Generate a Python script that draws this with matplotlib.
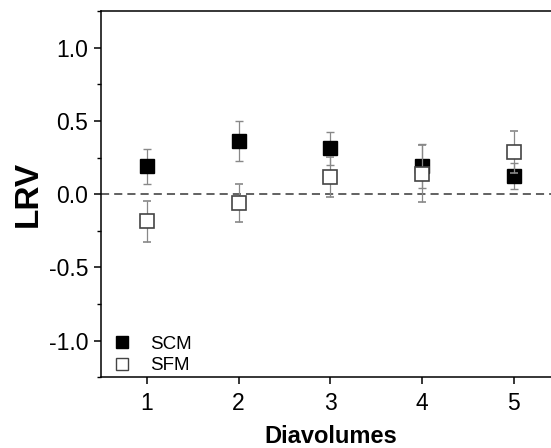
import matplotlib
matplotlib.use('Agg')
import matplotlib.pyplot as plt
from matplotlib.lines import Line2D
from matplotlib.ticker import MultipleLocator, FormatStrFormatter

plt.rcParams['font.family'] = ['Liberation Sans', 'DejaVu Sans']

# LRV per diavolume for the two membranes
diavolumes = [1, 2, 3, 4, 5]
scm_lrv = [0.19, 0.365, 0.315, 0.19, 0.125]
scm_err = [0.117, 0.137, 0.113, 0.15, 0.09]
sfm_lrv = [-0.185, -0.059, 0.116, 0.139, 0.29]
sfm_err = [0.14, 0.13, 0.137, 0.195, 0.145]

fig = plt.figure(figsize=(5.51, 4.48), dpi=100)
ax = fig.add_axes([0.183, 0.158, 0.833, 0.817])

ax.axhline(0, color='#555555', lw=1.3, ls=(0, (4.5, 2.8)), zorder=1)

ax.errorbar(diavolumes, scm_lrv, yerr=scm_err, fmt='s', ms=9.5,
            mfc='black', mec='black', mew=1.0, ecolor='#888888',
            elinewidth=0.9, capsize=3, capthick=0.9, zorder=3)
ax.errorbar(diavolumes, sfm_lrv, yerr=sfm_err, fmt='s', ms=9.5,
            mfc='white', mec='#444444', mew=1.2, ecolor='#888888',
            elinewidth=0.9, capsize=3, capthick=0.9, zorder=4)

ax.set_xlim(0.5, 5.5)
ax.set_ylim(-1.25, 1.25)
ax.set_xticks(diavolumes)
ax.yaxis.set_major_locator(MultipleLocator(0.5))
ax.yaxis.set_minor_locator(MultipleLocator(0.25))
ax.yaxis.set_major_formatter(FormatStrFormatter('%.1f'))

ax.spines['right'].set_visible(False)
for s in ['left', 'bottom', 'top']:
    ax.spines[s].set_linewidth(1.1)
ax.tick_params(axis='both', which='major', direction='out', length=5,
               width=1.1, labelsize=16.5)
ax.tick_params(axis='x', which='major', pad=6)
ax.tick_params(axis='y', which='major', pad=4)
ax.tick_params(axis='y', which='minor', direction='out', length=3, width=1.0)

ax.set_xlabel('Diavolumes', fontsize=17, fontweight='bold', labelpad=7)
ax.set_ylabel('LRV', fontsize=24, fontweight='bold', labelpad=4)

handles = [
    Line2D([], [], ls='none', marker='s', ms=8.5, mfc='black', mec='black'),
    Line2D([], [], ls='none', marker='s', ms=8, mfc='white', mec='#444444', mew=1.0),
]
ax.legend(handles, ['SCM', 'SFM'], loc='lower left', frameon=False,
          bbox_to_anchor=(0.005, -0.018),
          fontsize=13.5, handlelength=1.0, handletextpad=1.0,
          labelspacing=0.25, borderaxespad=0.2, borderpad=0.3)

fig.savefig('out.png', dpi=100)
